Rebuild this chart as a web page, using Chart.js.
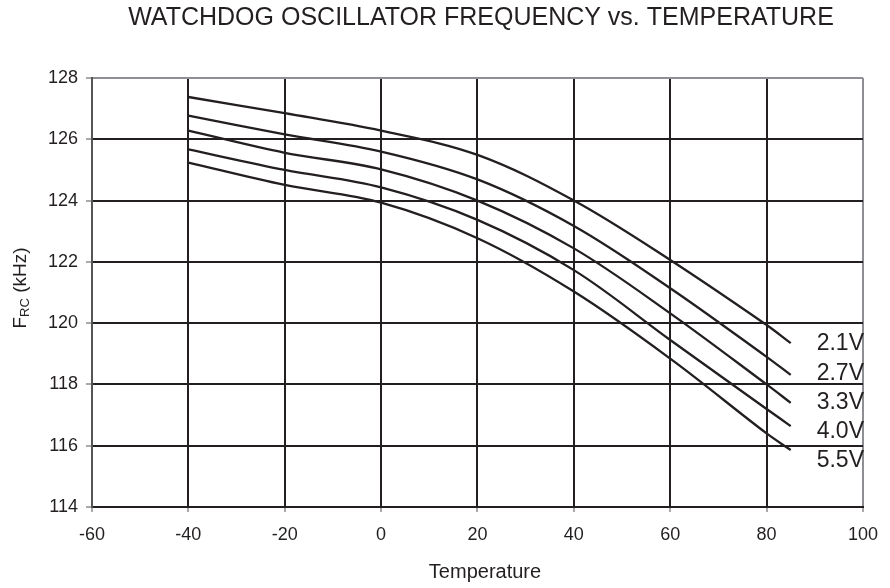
<!DOCTYPE html>
<html>
<head>
<meta charset="utf-8">
<script src="https://cdn.jsdelivr.net/npm/chart.js@4"></script>
<style>
  html, body { margin: 0; padding: 0; background: #fff; }
  #wrap { width: 890px; height: 588px; }
</style>
</head>
<body>
<div id="wrap"><canvas id="c" width="890" height="588"></canvas></div>
<script>
const temps = [-40, -20, 0, 20, 40, 60, 80, 85];
const f21 = [127.38, 126.85, 126.28, 125.49, 124.0, 122.06, 119.94, 119.35];
const f27 = [126.77, 126.16, 125.6, 124.69, 123.17, 121.14, 118.9, 118.31];
const f33 = [126.28, 125.56, 125.02, 124.0, 122.44, 120.32, 118.0, 117.4];
const f40 = [125.67, 125.0, 124.43, 123.37, 121.73, 119.45, 117.2, 116.64];
const f55 = [125.24, 124.51, 123.93, 122.77, 121.03, 118.84, 116.4, 115.86];
const seriesLabels = ['2.1V', '2.7V', '3.3V', '4.0V', '5.5V'];
const xTicks = [-60, -40, -20, 0, 20, 40, 60, 80, 100];
const yTicks = [114, 116, 118, 120, 122, 124, 126, 128];

const INK = '#231f20';
const EDGE = '#8d8f92';
const FONT = '"Liberation Sans", Arial, Helvetica, sans-serif';

function makeSeries(label, values) {
  return {
    label,
    data: temps.map((t, i) => ({ x: t, y: values[i] })),
    borderColor: INK,
    borderWidth: 2.3,
    pointRadius: 0,
    fill: false,
    tension: 0.35,
  };
}

const textPlugin = {
  id: 'textPlugin',
  afterDraw(chart) {
    const { ctx, chartArea } = chart;
    ctx.save();
    ctx.fillStyle = INK;
    ctx.textBaseline = 'middle';

    // title
    ctx.font = `25px ${FONT}`;
    ctx.textAlign = 'center';
    ctx.fillText('WATCHDOG OSCILLATOR FREQUENCY vs. TEMPERATURE', 481, 18);

    // x title
    ctx.font = `20px ${FONT}`;
    ctx.fillText('Temperature', 485, 572);

    // y title with subscript
    ctx.translate(21, 288);
    ctx.rotate(-Math.PI / 2);
    ctx.textAlign = 'left';
    const big = `19px ${FONT}`;
    const small = `13px ${FONT}`;
    ctx.font = big;
    const wF = ctx.measureText('F').width;
    ctx.font = small;
    const wSub = ctx.measureText('RC').width;
    ctx.font = big;
    const wRest = ctx.measureText(' (kHz)').width;
    let x0 = -(wF + wSub + wRest) / 2;
    ctx.fillText('F', x0, 0);
    ctx.font = small;
    ctx.fillText('RC', x0 + wF, 4);
    ctx.font = big;
    ctx.fillText(' (kHz)', x0 + wF + wSub, 0);
    ctx.restore();

    // curve labels, stacked from the top curve's end
    ctx.save();
    ctx.fillStyle = INK;
    ctx.font = `23px ${FONT}`;
    ctx.textAlign = 'right';
    ctx.textBaseline = 'middle';
    const first = chart.getDatasetMeta(0).data;
    const y0 = first[first.length - 1].y;
    seriesLabels.forEach((lab, i) => {
      ctx.fillText(lab, chartArea.right + 1, y0 + 1 + i * 29.2);
    });
    ctx.restore();
  },
};

new Chart(document.getElementById('c'), {
  type: 'line',
  data: {
    datasets: [
      makeSeries('2.1V', f21),
      makeSeries('2.7V', f27),
      makeSeries('3.3V', f33),
      makeSeries('4.0V', f40),
      makeSeries('5.5V', f55),
    ],
  },
  options: {
    responsive: false,
    animation: false,
    layout: { padding: { top: 78, right: 24, left: 0, bottom: 0 } },
    plugins: { legend: { display: false }, tooltip: { enabled: false }, title: { display: false } },
    scales: {
      x: {
        type: 'linear',
        min: -60,
        max: 100,
        afterBuildTicks: (s) => { s.ticks = xTicks.map((v) => ({ value: v })); },
        afterFit: (s) => { s.height = 81; },
        ticks: { color: INK, font: { family: FONT, size: 18 }, padding: 12, maxRotation: 0 },
        grid: {
          color: (c) => (c.tick && c.tick.value === 100 ? EDGE : INK),
          lineWidth: 2,
          tickLength: 5,
          tickWidth: 1,
          tickColor: '#555',
        },
        border: { color: INK, width: 2 },
      },
      y: {
        min: 114,
        max: 128,
        afterBuildTicks: (s) => { s.ticks = yTicks.map((v) => ({ value: v })); },
        afterFit: (s) => { s.width = 92; },
        ticks: { color: INK, font: { family: FONT, size: 18 }, padding: 8 },
        grid: {
          color: (c) => (c.tick && c.tick.value === 128 ? EDGE : INK),
          lineWidth: 2,
          tickLength: 6,
          tickWidth: 1,
          tickColor: '#555',
        },
        border: { color: '#555', width: 2 },
      },
    },
  },
  plugins: [textPlugin],
});
</script>
</body>
</html>
